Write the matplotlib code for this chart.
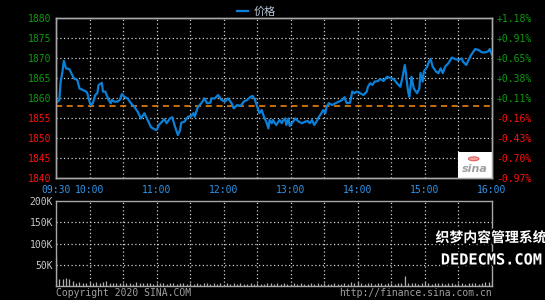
import matplotlib
matplotlib.use("Agg")
import matplotlib.pyplot as plt
import matplotlib.patheffects as pe
from matplotlib.patches import Rectangle, Circle

# minutes since 09:30 and index level
minutes = [0, 3, 4, 6, 7, 9, 12, 13, 16, 19, 21, 24, 27, 28, 30, 31, 33, 35, 37, 38,
           41, 42, 44, 46, 47, 49, 50, 52, 55, 57, 59, 61, 64, 67, 70, 73, 76, 77, 79, 82,
           85, 88, 90, 92, 95, 97, 99, 102, 104, 106, 109, 111, 112, 115, 118, 121, 123, 124, 126, 127,
           130, 133, 135, 138, 139, 142, 145, 148, 151, 154, 157, 159, 162, 165, 168, 171, 174, 176, 178, 180,
           182, 184, 186, 188, 190, 191, 193, 194, 197, 199, 200, 202, 203, 205, 206, 208, 209, 212, 214, 217,
           220, 223, 225, 227, 229, 231, 233, 235, 237, 239, 241, 242, 244, 247, 250, 253, 256, 258, 260, 263,
           265, 267, 269, 272, 275, 278, 279, 281, 283, 285, 288, 290, 293, 296, 298, 302, 305, 308, 310, 312,
           313, 314, 315, 316, 317, 318, 320, 323, 325, 326, 328, 329, 332, 333, 335, 337, 340, 342, 344, 346,
           348, 351, 354, 357, 360, 363, 364, 367, 369, 371, 375, 378, 381, 384, 387, 388, 390]
price = [1858.8, 1859.5, 1863.7, 1867.0, 1869.3, 1867.4, 1867.2, 1866.6, 1864.9, 1864.5,
         1862.4, 1862.0, 1861.6, 1861.2, 1859.1, 1858.2, 1858.7, 1860.7, 1861.2, 1863.2,
         1863.8, 1861.6, 1861.6, 1860.3, 1859.5, 1858.7, 1859.5, 1859.1, 1859.1, 1859.5,
         1861.0, 1860.3, 1859.9, 1858.7, 1857.8, 1856.6, 1854.9, 1855.3, 1856.2, 1854.5,
         1852.7, 1852.2, 1852.0, 1853.25, 1854.1, 1854.7, 1853.7, 1854.9, 1855.2, 1853.25,
         1850.75, 1852.0, 1853.8, 1854.1, 1855.3, 1855.5, 1856.2, 1855.3, 1857.0, 1857.8,
         1858.7, 1859.9, 1858.7, 1858.8, 1859.9, 1859.9, 1860.75, 1859.5, 1859.1, 1859.9,
         1858.7, 1857.4, 1858.25, 1858.0, 1859.1, 1859.5, 1860.3, 1860.5, 1859.5, 1857.8,
         1856.2, 1857.0, 1855.3, 1854.1, 1852.4, 1854.5, 1853.7, 1854.5, 1853.25, 1854.1,
         1854.5, 1853.7, 1854.3, 1854.9, 1853.25, 1854.9, 1853.0, 1854.1, 1854.9, 1854.1,
         1853.7, 1854.1, 1854.25, 1853.7, 1854.5, 1853.25, 1854.1, 1855.2, 1856.0, 1857.0,
         1856.2, 1857.8, 1858.7, 1858.25, 1858.7, 1859.1, 1859.5, 1860.2, 1858.7, 1858.8,
         1861.6, 1861.2, 1861.6, 1861.2, 1860.75, 1861.6, 1862.8, 1863.7, 1863.25, 1864.1,
         1864.25, 1864.75, 1864.25, 1865.3, 1865.1, 1864.75, 1863.7, 1862.8, 1865.3, 1868.25,
         1866.25, 1863.75, 1861.6, 1860.3, 1862.4, 1865.3, 1862.4, 1861.2, 1862.4, 1866.25,
         1864.1, 1866.6, 1867.8, 1868.7, 1869.75, 1867.8, 1866.6, 1866.2, 1867.4, 1866.2,
         1867.8, 1868.7, 1870.1, 1869.75, 1869.5, 1869.9, 1869.1, 1868.25, 1869.5, 1870.6,
         1872.25, 1872.0, 1871.4, 1871.4, 1871.75, 1872.25, 1870.75]
prev_close = 1858.0

# volume (thousands), one reading every 3 minutes
vol_minutes = list(range(0, 391, 3))
volume = [69, 16, 17, 19, 16, 12, 8, 10, 7, 6, 9, 8, 10, 7, 9, 12, 7, 6, 8, 7,
          6, 8, 7, 5, 9, 6, 7, 8, 6, 5, 7, 8, 6, 5, 7, 6, 5, 8, 6, 5,
          7, 5, 6, 4, 7, 6, 5, 8, 5, 6, 4, 7, 5, 6, 5, 8, 5, 4, 6, 5,
          7, 5, 4, 6, 8, 5, 6, 4, 7, 5, 4, 6, 5, 7, 5, 4, 6, 5, 7, 5,
          6, 4, 5, 6, 4, 5, 6, 5, 10, 7, 9, 6, 5, 7, 6, 5, 7, 6, 5, 6,
          7, 5, 8, 6, 23, 7, 6, 8, 5, 7, 9, 6, 5, 7, 6, 8, 5, 6, 7, 5,
          6, 8, 5, 7, 6, 8, 5, 7, 9, 10, 12]

time_ticks = [0, 30, 90, 150, 210, 270, 330, 390]
time_labels = ["09:30", "10:00", "11:00", "12:00", "13:00", "14:00", "15:00", "16:00"]
price_ticks = [1880, 1875, 1870, 1865, 1860, 1855, 1850, 1845, 1840]
pct_labels = ["+1.18%", "+0.91%", "+0.65%", "+0.38%", "+0.11%",
              "-0.16%", "-0.43%", "-0.70%", "-0.97%"]
vol_ticks = [50, 100, 150, 200]
vol_labels = ["50K", "100K", "150K", "200K"]

BG = "black"
GRID = "#d0d0d0"
SPINE = "#a8a8a8"
GREEN = "#109a10"
RED = "#ff1010"
BLUE_TXT = "#2f95ea"
MONO = "DejaVu Sans Mono"

fig = plt.figure(figsize=(5.45, 3.0), dpi=100, facecolor=BG)
ax = fig.add_axes([56 / 545, 1 - 178 / 300, 436 / 545, 160 / 300], facecolor=BG)
axv = fig.add_axes([56 / 545, 1 - 286 / 300, 436 / 545, 85 / 300], facecolor=BG)

grid_minutes = list(range(30, 390, 30))

# price panel
for g in grid_minutes:
    ax.axvline(g, color=GRID, lw=0.9, ls=(0, (1, 2)), zorder=1)
for p in price_ticks[1:-1]:
    ax.axhline(p, color=GRID, lw=0.9, ls=(0, (1, 2)), zorder=1)
ax.axhline(prev_close, color="#ff8c10", lw=1.1, ls=(0, (4, 3)), zorder=2)
ax.plot(minutes, price, color="#0a80d8", lw=1.6, zorder=3, label="价格")
ax.set_xlim(0, 390)
ax.set_ylim(1840, 1880)

ax.set_xticks(time_ticks)
ax.set_xticklabels(time_labels, fontfamily=MONO, fontsize=7, color=BLUE_TXT)
ax.set_yticks(price_ticks)
ax.set_yticklabels([str(p) for p in price_ticks], fontfamily=MONO, fontsize=7)
for lab, p in zip(ax.get_yticklabels(), price_ticks):
    lab.set_color(GREEN if p >= 1860 else RED)
ax.tick_params(axis="y", length=0, pad=3)
ax.tick_params(axis="x", length=0, pad=5)

axr = ax.twinx()
axr.set_ylim(1840, 1880)
axr.set_yticks(price_ticks)
axr.set_yticklabels(pct_labels, fontfamily=MONO, fontsize=7)
for lab, s in zip(axr.get_yticklabels(), pct_labels):
    lab.set_color(GREEN if s.startswith("+") else RED)
axr.tick_params(length=0, pad=3)

for a in (ax, axr, axv):
    for sp in a.spines.values():
        sp.set_color(SPINE)
        sp.set_linewidth(1.0)

# sina logo box
ax.add_patch(Rectangle((0.923, 0.0), 0.077, 0.165, transform=ax.transAxes,
                       facecolor="white", edgecolor="none", zorder=4))
ax.add_patch(Circle((0.958, 0.12), 0.012, transform=ax.transAxes,
                    facecolor="#f0a0a0", edgecolor="#e06060", lw=0.8, zorder=5))
ax.text(0.961, 0.055, "sina", transform=ax.transAxes, ha="center", va="center",
        fontsize=8, fontweight="bold", style="italic", color="#a0a0a0", zorder=5)

leg = ax.legend(loc="lower center", bbox_to_anchor=(0.46, 0.975), frameon=False,
                prop={"family": ["Noto Sans CJK SC", "DejaVu Sans"], "size": 8},
                handlelength=1.0, handletextpad=0.5, borderaxespad=0.05)
for t in leg.get_texts():
    t.set_color("#b8c8d8")

# volume panel
for g in grid_minutes:
    axv.axvline(g, color=GRID, lw=0.9, ls=(0, (1, 2)), zorder=1)
for v in vol_ticks[:-1]:
    axv.axhline(v, color=GRID, lw=0.9, ls=(0, (1, 2)), zorder=1)
axv.vlines(vol_minutes, 0, volume, color="#b0b0b0", lw=0.9, zorder=2)
axv.set_xlim(0, 390)
axv.set_ylim(0, 200)
axv.set_xticks([])
axv.set_yticks(vol_ticks)
axv.set_yticklabels(vol_labels, fontfamily=MONO, fontsize=7, color="#c8c8c8")
axv.tick_params(length=0, pad=2)

fig.text(56 / 545, 1 - 293 / 300, "Copyright 2020 SINA.COM", ha="left", va="center",
         fontfamily=MONO, fontsize=7, color="#a0a0a0")
fig.text(492 / 545, 1 - 293 / 300, "http://finance.sina.com.cn", ha="right", va="center",
         fontfamily=MONO, fontsize=7, color="#a0a0a0")

# watermark
stroke = [pe.withStroke(linewidth=2.5, foreground="black")]
fig.text(491 / 545, 1 - 238 / 300, "织梦内容管理系统", ha="center", va="center",
         fontfamily=["Noto Sans CJK SC", "DejaVu Sans"], fontsize=10, fontweight="bold",
         color="white", path_effects=stroke)
fig.text(491 / 545, 1 - 260 / 300, "DEDECMS.COM", ha="center", va="center",
         fontfamily=MONO, fontsize=11, fontweight="bold", color="white", path_effects=stroke)

fig.savefig("out.png", dpi=100, facecolor=BG)
